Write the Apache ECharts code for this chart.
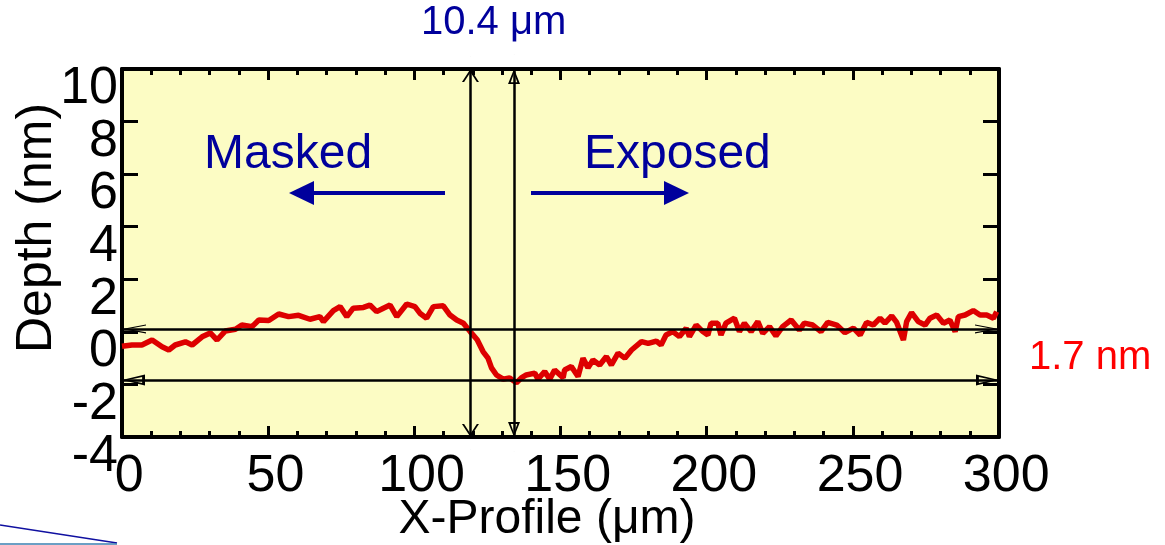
<!DOCTYPE html>
<html>
<head>
<meta charset="utf-8">
<script src="https://cdn.jsdelivr.net/npm/echarts@6/dist/echarts.min.js"></script>
<style>
  html, body { margin: 0; padding: 0; background: #fff; }
  #chart { width: 1165px; height: 545px; }
</style>
</head>
<body>
<div id="chart"></div>
<script>
// profile
var profileX = [0, 3.4, 6.8, 10.3, 13.7, 16, 18.2, 21.7, 24, 27.4, 30.2, 32.5, 35.3, 38.8, 41, 44.5, 46.8, 50.2, 53.6, 57,
    60.4, 64.3, 67.7, 68.9, 72.3, 74.6, 76.9, 79.1, 82.6, 84.8, 87.1, 89.4, 91.7, 94, 97.4, 100.2, 101.9, 104.2, 106.5, 109.9,
    112.2, 114.5, 116.8, 119.1, 121.5, 123.5, 125.2, 126.4, 128.1, 130.4, 132.6, 134.9, 136.6, 138.3, 141.2, 142.3, 144.6, 146.3, 148, 150.9,
    151.4, 153.7, 156, 157.7, 159.4, 161.1, 163.4, 165.7, 167.4, 169.7, 172, 174.3, 177.7, 180, 182.8, 184.4, 186.1, 188.4, 190.7, 193,
    194.1, 196.4, 198.7, 200.4, 201.5, 203.8, 204.9, 206.6, 209.5, 211.2, 212.9, 215.2, 217.5, 219.2, 221.5, 223.7, 226, 228.9, 231.7, 233.4,
    236.3, 239.1, 241.4, 244.5, 247.3, 250.2, 252.5, 254.7, 257, 259.3, 261, 263.3, 265, 267.3, 268.4, 270.1, 272.4, 274.7, 276.4, 278.7,
    281, 283.2, 285, 286.1, 288.4, 291.2, 293.5, 295.8, 298.1, 299.2];
var profileY = [-0.55, -0.5, -0.5, -0.31, -0.57, -0.69, -0.5, -0.38, -0.5, -0.19, -0.04, -0.31, 0.03, 0.1, 0.26, 0.2, 0.45, 0.43, 0.68, 0.58,
    0.63, 0.48, 0.58, 0.39, 0.81, 0.96, 0.58, 0.9, 0.93, 1.02, 0.77, 0.9, 1.02, 0.58, 1.06, 0.96, 0.71, 0.52, 0.96, 0.99,
    0.64, 0.45, 0.33, 0.01, -0.3, -0.75, -1.0, -1.37, -1.64, -1.8, -1.75, -1.94, -1.75, -1.64, -1.57, -1.8, -1.51, -1.8, -1.45, -1.75,
    -1.45, -1.32, -1.7, -1.0, -1.37, -1.07, -1.26, -0.94, -1.26, -0.81, -1.0, -0.69, -0.37, -0.44, -0.35, -0.5, -0.12, 0.01, -0.18, 0.14,
    -0.18, 0.26, 0.01, -0.12, 0.33, 0.33, -0.12, 0.33, 0.52, 0.01, 0.33, 0.01, 0.39, -0.06, 0.2, -0.15, 0.2, 0.45, 0.07, 0.33,
    0.26, 0.01, 0.36, 0.26, -0.03, 0.14, -0.12, 0.36, 0.26, 0.52, 0.33, 0.61, 0.36, -0.31, 0.39, 0.73, 0.39, 0.26, 0.52, 0.64,
    0.33, 0.45, 0.01, 0.58, 0.64, 0.81, 0.64, 0.64, 0.52, 0.77];

// guide lines (x positions in um, y levels in nm)
var guideX = [119.2, 134.1];
var guideY = [0.11, -1.83];
var xTicks = [0, 50, 100, 150, 200, 250, 300];
var yTicks = [-4, -2, 0, 2, 4, 6, 8, 10];

var blue = '#00009C';
var font = 'Liberation Sans, Arial, sans-serif';
// arrow heads: a tiny dot at the far end keeps the tip in the symbol's centre
var chevron = 'path://M-0.1,0 L0.1,0 L0,0.2 Z M0,20 L10,40 L7.5,40 L0,25 L-7.5,40 L-10,40 Z';
var hollowTri = 'path://M-0.1,0 L0.1,0 L0,0.2 Z M0,20 L6,40 L-6,40 Z M0,25.5 L-3.3,37.5 L3.3,37.5 Z';

var points = [];
for (var i = 0; i < profileX.length; i++) {
    points.push([profileX[i], profileY[i]]);
}
var xMin = xTicks[0], xMax = xTicks[xTicks.length - 1];
var yMin = yTicks[0], yMax = yTicks[yTicks.length - 1];

function xAxisBase(pos) {
    return {
        type: 'value', min: xMin, max: xMax, interval: 50, position: pos,
        axisLine: { show: true, onZero: false, lineStyle: { color: '#000', width: 4 } },
        axisTick: { show: true, inside: true, length: 11, lineStyle: { color: '#000', width: 3 } },
        minorTick: { show: true, splitNumber: 5, length: 6, lineStyle: { color: '#000', width: 3 } },
        splitLine: { show: false }
    };
}
function yAxisBase(pos) {
    return {
        type: 'value', min: yMin, max: yMax, interval: 2, position: pos,
        axisLine: { show: true, onZero: false, lineStyle: { color: '#000', width: 4 } },
        axisTick: { show: true, inside: true, length: 16, lineStyle: { color: '#000', width: 3 } },
        splitLine: { show: false }
    };
}

var xBottom = xAxisBase('bottom');
xBottom.axisLabel = {
    color: '#000', fontSize: 52, fontFamily: font, margin: 14,
    formatter: function (v) { return ' ' + v; }
};
var xTop = xAxisBase('top');
xTop.axisLabel = { show: false };
var yLeft = yAxisBase('left');
yLeft.axisLabel = { color: '#000', fontSize: 52, fontFamily: font, margin: 4, verticalAlign: 'top', lineHeight: 40 };
var yRight = yAxisBase('right');
yRight.axisLabel = { show: false };

function guide(from, to, sym, size) {
    return {
        type: 'line', data: [], z: 3,
        markLine: {
            silent: true, animation: false,
            symbol: [sym, sym], symbolSize: size,
            label: { show: false },
            lineStyle: { color: '#000', width: 2.5, type: 'solid' },
            data: [[{ coord: from }, { coord: to }]]
        }
    };
}

var chart = echarts.init(document.getElementById('chart'));
var option = {
    animation: false,
    backgroundColor: '#fff',
    grid: { left: 122, right: 166, top: 69, bottom: 108, show: true, backgroundColor: '#FCFCC4', borderWidth: 0 },
    xAxis: [xBottom, xTop],
    yAxis: [yLeft, yRight],
    series: [
        {
            type: 'line', data: points, showSymbol: false, z: 2,
            lineStyle: { color: '#DD0000', width: 5.5 }
        },
        guide([guideX[0], yMin], [guideX[0], yMax], chevron, [17, 26]),
        guide([guideX[1], yMin], [guideX[1], yMax], hollowTri, [12, 30]),
        guide([xMin, guideY[0]], [xMax, guideY[0]], chevron, [9, 48]),
        guide([xMin, guideY[1]], [xMax, guideY[1]], hollowTri, [11, 46])
    ],
    graphic: [
        { type: 'text', x: 37, y: 228, rotation: Math.PI / 2,
          style: { text: 'Depth (nm)', fill: '#000', fontSize: 50, fontFamily: font, align: 'center', verticalAlign: 'middle' } },
        { type: 'text', x: 547, y: 520,
          style: { text: 'X-Profile (\u03bcm)', fill: '#000', fontSize: 48, fontFamily: font, align: 'center', verticalAlign: 'middle' } },
        { type: 'text', left: 421, top: 3, style: { text: '10.4 \u03bcm', fill: blue, fontSize: 40, fontFamily: font } },
        { type: 'text', left: 204, top: 131, style: { text: 'Masked', fill: blue, fontSize: 48, fontFamily: font } },
        { type: 'text', left: 584, top: 131, style: { text: 'Exposed', fill: blue, fontSize: 48, fontFamily: font } },
        { type: 'text', left: 1029, top: 338, style: { text: '1.7 nm', fill: '#FF0000', fontSize: 40, fontFamily: font } },
        { type: 'line', shape: { x1: 445, y1: 193, x2: 310, y2: 193 }, style: { stroke: blue, lineWidth: 4 } },
        { type: 'polygon', shape: { points: [[289, 193], [314, 181], [314, 205]] }, style: { fill: blue } },
        { type: 'line', shape: { x1: 531, y1: 193, x2: 668, y2: 193 }, style: { stroke: blue, lineWidth: 4 } },
        { type: 'polygon', shape: { points: [[689, 193], [664, 181], [664, 205]] }, style: { fill: blue } },
        { type: 'line', shape: { x1: 0, y1: 525, x2: 117, y2: 543 }, style: { stroke: '#1010A0', lineWidth: 1.5 } },
        { type: 'line', shape: { x1: 0, y1: 544, x2: 117, y2: 544 }, style: { stroke: '#3A7FB0', lineWidth: 1.5 } }
    ]
};
chart.setOption(option);
</script>
</body>
</html>
